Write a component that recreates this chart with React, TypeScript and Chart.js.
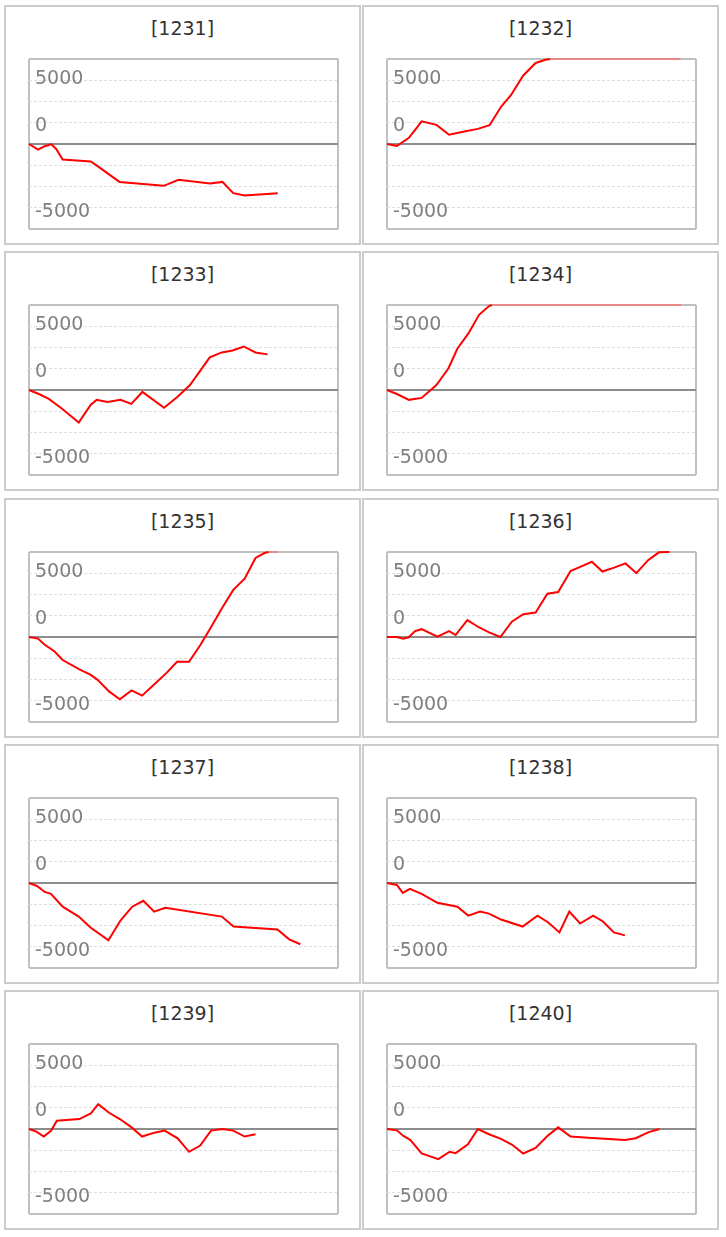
import React, { useEffect, useRef } from "react";
import { Chart, registerables } from "chart.js";

Chart.register(...registerables);

// x positions are in percent of the plot width, y values in the chart's units
const titles = ["[1231]", "[1232]", "[1233]", "[1234]", "[1235]", "[1236]", "[1237]", "[1238]", "[1239]", "[1240]"];

const x1231 = [0, 2.9, 5.0, 7.2, 8.8, 10.9, 20.0, 22.2, 29.3, 43.6, 48.4, 58.6, 62.6, 66.1, 69.8, 80.5];
const y1231 = [0, -660, -270, -40, -580, -1820, -2050, -2600, -4460, -4920, -4220, -4650, -4460, -5780, -6050, -5780];

const x1232 = [0, 3.2, 7.0, 9.1, 11.2, 16.0, 20.1, 24.6, 29.4, 33.2, 36.9, 40.1, 44.1, 48.1, 51.3, 52.8, 95.0];
const y1232 = [0, -230, 700, 1670, 2670, 2250, 1085, 1430, 1780, 2210, 4380, 5740, 8060, 9530, 9920, 10000, 10000];

const x1233 = [0, 3.2, 6.4, 10.3, 16.1, 20.0, 21.9, 25.4, 29.6, 33.1, 36.7, 43.7, 48.0, 52.1, 58.5, 62.4, 65.9, 69.5, 73.3, 77.2];
const y1233 = [0, -470, -1050, -2090, -3840, -1740, -1160, -1400, -1160, -1630, -230, -2090, -820, 580, 3840, 4420, 4650, 5120, 4420, 4190];

const x1234 = [0, 3.2, 7.1, 11.2, 16.0, 19.9, 22.8, 26.3, 29.8, 33.0, 34.0, 95.2];
const y1234 = [0, -470, -1160, -930, 580, 2560, 4880, 6630, 8840, 9880, 10000, 10000];

const x1235 = [0, 2.9, 5.0, 8.2, 10.9, 16.3, 20.0, 22.2, 25.9, 29.4, 33.2, 36.6, 40.4, 44.6, 47.9, 51.8, 55.4, 58.6, 62.3, 66.1, 69.8, 73.3, 76.2, 77.6, 80.5];
const y1235 = [0, -190, -890, -1670, -2710, -3800, -4460, -5040, -6400, -7330, -6280, -6900, -5620, -4190, -2910, -2910, -970, 970, 3290, 5540, 6860, 9300, 9880, 10000, 10000];

const x1236 = [0, 3.2, 5.3, 7.0, 9.1, 11.2, 16.3, 20.1, 22.2, 26.0, 29.7, 33.0, 36.7, 40.4, 44.1, 48.1, 51.9, 55.4, 59.4, 62.9, 66.3, 69.7, 73.5, 77.2, 80.7, 84.5, 88.0, 91.4];
const y1236 = [0, 0, -190, -40, 690, 920, 40, 690, 230, 1990, 1150, 540, 0, 1800, 2680, 2870, 5090, 5290, 7770, 8310, 8850, 7700, 8160, 8660, 7510, 9040, 9960, 10000];

const x1237 = [0, 2.6, 5.1, 7.1, 10.9, 16.1, 19.9, 25.7, 29.6, 33.4, 37.0, 40.5, 44.1, 62.4, 66.2, 80.4, 84.2, 87.8];
const y1237 = [0, -350, -1050, -1280, -2790, -3950, -5230, -6750, -4420, -2790, -2090, -3370, -2910, -3950, -5120, -5470, -6630, -7210];

const x1238 = [0, 3.2, 5.1, 7.4, 11.2, 16.3, 22.8, 26.3, 30.1, 33.0, 36.9, 43.9, 48.7, 52.2, 55.8, 59.0, 62.5, 66.7, 69.9, 73.4, 77.0];
const y1238 = [0, -230, -1160, -700, -1280, -2330, -2790, -3840, -3370, -3600, -4300, -5120, -3840, -4650, -5820, -3370, -4770, -3840, -4530, -5820, -6160];

const x1239 = [0, 2.4, 4.8, 7.2, 9.0, 16.3, 20.0, 22.4, 25.9, 29.4, 33.2, 36.6, 40.6, 43.9, 48.1, 51.8, 55.4, 58.9, 62.6, 66.1, 69.8, 73.3];
const y1239 = [0, -310, -890, -190, 970, 1170, 1830, 2920, 1910, 1170, 190, -890, -430, -190, -1090, -2680, -1950, -190, 0, -190, -890, -620];

const x1240 = [0, 3.2, 5.3, 7.5, 9.1, 11.2, 16.6, 20.3, 22.2, 26.2, 29.4, 33.0, 36.7, 40.4, 44.1, 48.1, 51.9, 55.4, 59.4, 66.3, 77.0, 80.5, 84.5, 88.2];
const y1240 = [0, -160, -820, -1280, -1950, -2880, -3540, -2680, -2840, -1790, 0, -620, -1130, -1830, -2880, -2220, -820, 190, -890, -1050, -1280, -1090, -390, 0];

const seriesX = [x1231, x1232, x1233, x1234, x1235, x1236, x1237, x1238, x1239, x1240];
const seriesY = [y1231, y1232, y1233, y1234, y1235, y1236, y1237, y1238, y1239, y1240];

// axis range and tick labels as they appear in the picture
const yMin = -10000;
const yMax = 10000;
const yGridStep = 2500;
const yLabelAt = [7640, 2120, -8000];
const yLabelText = ["5000", "0", "-5000"];

const CANVAS_W = 311;
const CANVAS_H = 172;

const yLabelPlugin = {
  id: "yLabels",
  beforeDatasetsDraw(chart: any) {
    const { ctx, chartArea, scales } = chart;
    const s = scales.y;
    ctx.save();
    ctx.font = '19px "DejaVu Sans"';
    ctx.fillStyle = "#808080";
    ctx.textAlign = "left";
    ctx.textBaseline = "middle";
    yLabelAt.forEach((v, i) => {
      ctx.fillText(yLabelText[i], chartArea.left + 6, s.getPixelForValue(v));
    });
    ctx.restore();
  },
};

function MiniChart({ xs, ys }: { xs: number[]; ys: number[] }) {
  const ref = useRef<HTMLCanvasElement>(null);
  useEffect(() => {
    if (!ref.current) return;
    const chart = new Chart(ref.current, {
      type: "line",
      data: {
        datasets: [
          {
            data: xs.map((x, i) => ({ x, y: ys[i] })),
            borderColor: "#ff0000",
            borderWidth: 2,
            pointRadius: 0,
            tension: 0,
            fill: false,
            clip: false,
            segment: {
              borderColor: (c: any) =>
                c.p0.parsed.y >= yMax && c.p1.parsed.y >= yMax ? "#e68888" : undefined,
            },
          },
        ],
      },
      options: {
        animation: false,
        responsive: false,
        devicePixelRatio: 1,
        layout: { padding: 1 },
        plugins: {
          legend: { display: false },
          tooltip: { enabled: false },
        },
        scales: {
          x: {
            type: "linear",
            min: 0,
            max: 100,
            ticks: { display: false, stepSize: 100 },
            grid: { color: "#c0c0c0", lineWidth: 2, drawTicks: false },
            border: { display: false },
          },
          y: {
            type: "linear",
            min: yMin,
            max: yMax,
            ticks: { display: false, stepSize: yGridStep },
            grid: {
              color: (c: any) => (c.tick && c.tick.value % 10000 === 0 ? "rgba(0,0,0,0)" : "#dedede"),
              lineWidth: 1,
              drawTicks: false,
            },
            border: { display: false, dash: [3, 2] },
          },
          y2: {
            type: "linear",
            position: "left",
            min: yMin,
            max: yMax,
            ticks: { display: false, stepSize: 10000 },
            grid: {
              color: (c: any) => (c.tick && c.tick.value === 0 ? "#8c8c8c" : "#c0c0c0"),
              lineWidth: 2,
              drawTicks: false,
            },
            border: { display: false },
          },
        },
      },
      plugins: [yLabelPlugin],
    } as any);
    return () => chart.destroy();
  }, [xs, ys]);
  return (
    <canvas
      ref={ref}
      width={CANVAS_W}
      height={CANVAS_H}
      style={{ position: "absolute", left: 22, top: 51, width: CANVAS_W, height: CANVAS_H }}
    />
  );
}

const colLeft = [4, 362];
const rowTop = [5, 251.25, 497.5, 743.75, 990];

export default function App() {
  return (
    <div style={{ position: "absolute", left: 0, top: 0, width: 726, height: 1237, background: "#fff" }}>
      {titles.map((t, i) => {
        const c = i % 2;
        const r = Math.floor(i / 2);
        return (
          <div
            key={t}
            style={{
              position: "absolute",
              left: colLeft[c],
              top: Math.round(rowTop[r]),
              width: 357,
              height: 240,
              boxSizing: "border-box",
              border: "2px solid #cccccc",
              background: "#fff",
            }}
          >
            <div
              style={{
                position: "absolute",
                left: 0,
                right: 0,
                top: 10,
                height: 22,
                lineHeight: "22px",
                textAlign: "center",
                fontFamily: '"DejaVu Sans"',
                fontSize: 19,
                color: "#333333",
              }}
            >
              {t}
            </div>
            <MiniChart xs={seriesX[i]} ys={seriesY[i]} />
          </div>
        );
      })}
    </div>
  );
}
